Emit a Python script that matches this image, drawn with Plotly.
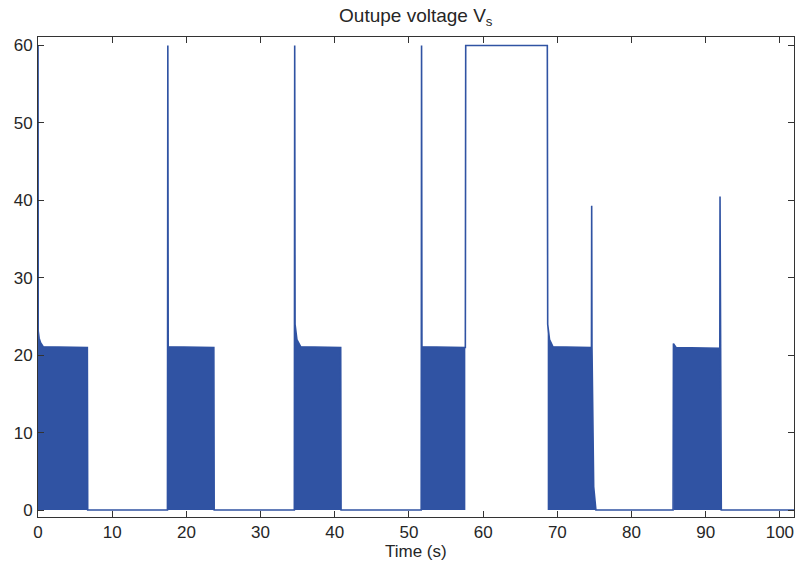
import plotly.graph_objects as go

# Envelope of the output voltage (time in s, voltage in V)
time_s = [0, 0.01, 0.03, 0.15, 0.35, 0.7, 6.65, 6.7, 17.45, 17.5, 17.55, 23.7, 23.75,
          34.55, 34.6, 34.65, 34.9, 35.4, 40.8, 40.85, 51.65, 51.7, 51.75, 57.6, 57.65,
          68.65, 68.7, 68.95, 69.4, 74.6, 74.63, 74.67, 74.9, 75.2, 85.6, 85.65, 86.0,
          91.9, 91.93, 91.97, 92.1, 102]
volts = [0, 60, 23.1, 22.2, 21.6, 21.1, 21.0, 0, 0, 60, 21.1, 21.0, 0,
         0, 60, 24.0, 22.0, 21.1, 21.0, 0, 0, 60, 21.1, 21.0, 60,
         60, 24.0, 22.0, 21.1, 21.0, 39.3, 21.0, 3.0, 0, 0, 21.5, 21.0,
         20.9, 40.5, 20.9, 0, 0]

# PWM bursts (regions where the signal switches rapidly between 0 and the level)
burst_start = [0, 17.5, 34.6, 51.7, 68.7, 85.65]
burst_end = [6.7, 23.75, 40.85, 57.6, 75.2, 92.1]

x_ticks = [0, 10, 20, 30, 40, 50, 60, 70, 80, 90, 100]
y_ticks = [0, 10, 20, 30, 40, 50, 60]

BLUE = "#3053a3"
FONT = "Liberation Sans, Arial"
TXT = "#262626"

# Filled polygons for the bursts, built from the envelope points in each burst
fx, fy = [], []
for s, e in zip(burst_start, burst_end):
    pts = [(t, v) for t, v in zip(time_s, volts) if s <= t <= e]
    fx += [s] + [p[0] for p in pts] + [e, None]
    fy += [0] + [min(p[1], 25) for p in pts] + [0, None]

fig = go.Figure()
fig.add_trace(go.Scatter(x=fx, y=fy, mode="none", fill="toself",
                         fillcolor=BLUE, hoverinfo="skip", showlegend=False))
fig.add_trace(go.Scatter(x=time_s, y=volts, mode="lines",
                         line=dict(color=BLUE, width=1.6), showlegend=False))

axis_common = dict(showgrid=False, zeroline=False, showline=True, mirror="allticks",
                   linecolor="#333333", linewidth=1, ticks="inside", ticklen=6,
                   tickcolor="#333333", automargin=False,
                   tickfont=dict(family=FONT, size=17, color=TXT))
fig.update_layout(
    width=795, height=565,
    margin=dict(l=38, r=1, t=37, b=48),
    paper_bgcolor="white", plot_bgcolor="white",
    title=dict(text="Outupe voltage V<sub>s</sub>", x=0.523, xanchor="center",
               y=0.985, yanchor="top",
               font=dict(family=FONT, size=19, color=TXT)),
    xaxis=dict(range=[0, 101.9], tickvals=x_ticks, **axis_common),
    yaxis=dict(range=[-0.9, 61.1], tickvals=y_ticks, ticklabelstandoff=1,
               **axis_common),
    annotations=[dict(text="Time (s)", xref="paper", yref="paper", x=0.5, y=0,
                      xanchor="center", yanchor="middle", yshift=-34,
                      showarrow=False, font=dict(family=FONT, size=17, color=TXT))],
)
fig.write_html("out.html", config={"displayModeBar": False},
               post_script="document.body.style.margin='0';document.body.style.padding='0';")
